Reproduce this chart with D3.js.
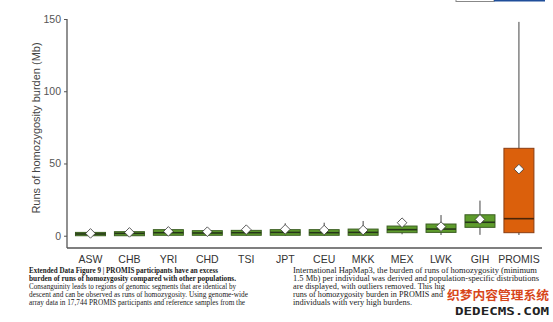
<!DOCTYPE html>
<html><head><meta charset="utf-8">
<script src="https://cdn.jsdelivr.net/npm/d3@7"></script>
<style>html,body{margin:0;padding:0;background:#fff;}svg{display:block;}</style>
</head><body>
<script>
const categories = ["ASW","CHB","YRI","CHD","TSI","JPT","CEU","MKK","MEX","LWK","GIH","PROMIS"];
const q1Values = [0, 0, 0.3, 0.3, 0.3, 0.3, 0.3, 0.3, 2.1, 2.3, 5.8, 2.1];
const medianValues = [1.2, 1.6, 2.1, 1.9, 2.1, 2.3, 2.1, 2.3, 4.2, 4.6, 9.3, 11.8];
const q3Values = [2.3, 2.8, 4.2, 3.5, 3.7, 4.2, 4.2, 4.6, 6.7, 8.1, 14.5, 60.5];
const whiskerLow = [0, 0, 0, 0, 0, 0, 0, 0, 1.0, 0.5, 0.6, 0.5];
const whiskerHigh = [3, 3.5, 6, 4.5, 6.3, 8.6, 9.0, 10.2, 9.0, 14.3, 24.3, 148];
const meanValues = [1.6, 2.3, 3.0, 2.8, 4.2, 4.4, 3.9, 3.9, 9.0, 6.3, 11.3, 46.1];
const yTicks = [0, 50, 100, 150];
const yLabel = "Runs of homozygosity burden (Mb)";
const captionLeft = [
  {t:"Extended Data Figure 9 | PROMIS participants have an excess", b:true, w:189},
  {t:"burden of runs of homozygosity compared with other populations.", b:true, w:207},
  {t:"Consanguinity leads to regions of genomic segments that are identical by", b:false, w:207},
  {t:"descent and can be observed as runs of homozygosity. Using genome-wide", b:false, w:219},
  {t:"array data in 17,744 PROMIS participants and reference samples from the", b:false, w:216}
];
const captionRight = [
  {t:"International HapMap3, the burden of runs of homozygosity (minimum", w:244},
  {t:"1.5 Mb) per individual was derived and population-specific distributions", w:246},
  {t:"are displayed, with outliers removed. This hig", w:152},
  {t:"runs of homozygosity burden in PROMIS and", w:150},
  {t:"individuals with very high burdens.", w:119}
];

const W = 553, H = 322;
const svg = d3.select("body").append("svg").attr("width", W).attr("height", H);

const data = categories.map((c, i) => ({
  cat: c, q1: q1Values[i], med: medianValues[i], q3: q3Values[i],
  lo: whiskerLow[i], hi: whiskerHigh[i], mean: meanValues[i]
}));

const x = d3.scaleBand().domain(categories).range([71, 538.4]).paddingInner(0.23).paddingOuter(0.115);
const y = d3.scaleLinear().domain([-8.5, 150]).range([248, 19]);

// top-right fragment
svg.append("rect").attr("x", 456).attr("y", -5).attr("width", 38).attr("height", 6.5)
  .attr("fill", "#fff").attr("stroke", "#888").attr("stroke-width", 1);
svg.append("rect").attr("x", 494).attr("y", -5).attr("width", 51).attr("height", 6.5)
  .attr("fill", "#1f4e9a");

// axes
const yAxis = d3.axisLeft(y).tickValues(yTicks).tickSize(3).tickPadding(3);
const gy = svg.append("g").attr("transform", "translate(67,0)").call(yAxis);
gy.select(".domain").attr("stroke", "#555").attr("stroke-width", 1.3).attr("d", `M0,${y(150)}V248`);
gy.selectAll(".tick line").attr("stroke", "#555");
gy.selectAll(".tick text").attr("fill", "#555").attr("font-family", "Liberation Sans, Arial, sans-serif").attr("font-size", 10.5);

const xAxis = d3.axisBottom(x).tickSize(0).tickPadding(8);
const gx = svg.append("g").attr("transform", "translate(0,248)").call(xAxis);
gx.select(".domain").attr("stroke", "#555").attr("stroke-width", 1.3).attr("d", "M67,0H542");
gx.selectAll(".tick text").attr("fill", "#333").attr("font-family", "Liberation Sans, Arial, sans-serif").attr("font-size", 10.5);

svg.append("text").attr("transform", "translate(40,128) rotate(-90)")
  .attr("text-anchor", "middle").attr("fill", "#444")
  .attr("font-family", "Liberation Sans, Arial, sans-serif").attr("font-size", 11)
  .text(yLabel);

// boxes
const g = svg.append("g");
const box = g.selectAll("g.box").data(data).join("g").attr("class", "box");
const isP = d => d.cat === "PROMIS";
box.append("line")
  .attr("x1", d => x(d.cat) + x.bandwidth()/2).attr("x2", d => x(d.cat) + x.bandwidth()/2)
  .attr("y1", d => y(d.hi)).attr("y2", d => y(d.lo))
  .attr("stroke", "#444").attr("stroke-width", 1);
box.append("rect")
  .attr("x", d => x(d.cat)).attr("width", x.bandwidth())
  .attr("y", d => y(d.q3)).attr("height", d => Math.max(y(d.q1) - y(d.q3), 1))
  .attr("fill", d => isP(d) ? "#db600c" : "#5e9c2c")
  .attr("stroke", d => isP(d) ? "#8a3d12" : "#3b5e22").attr("stroke-width", 1);
box.append("line")
  .attr("x1", d => x(d.cat)).attr("x2", d => x(d.cat) + x.bandwidth())
  .attr("y1", d => y(d.med)).attr("y2", d => y(d.med))
  .attr("stroke", d => isP(d) ? "#4a2408" : "#26351a").attr("stroke-width", 1.6);
box.append("path")
  .attr("d", d => {
    const cx = x(d.cat) + x.bandwidth()/2, cy = y(d.mean), r = 4.8;
    return `M${cx},${cy - r}L${cx + r},${cy}L${cx},${cy + r}L${cx - r},${cy}Z`;
  })
  .attr("fill", "#fff").attr("stroke", "#333").attr("stroke-width", 0.8);

// caption
const cap = svg.append("g").attr("font-family", "Liberation Serif, 'Times New Roman', serif").attr("font-size", 7.6).attr("fill", "#1a1a1a");
captionLeft.forEach((l, i) => {
  cap.append("text").attr("x", 29).attr("y", 273 + i * 7.9)
    .attr("font-weight", l.b ? "bold" : "normal")
    .attr("textLength", l.w).attr("lengthAdjust", "spacingAndGlyphs").text(l.t);
});
captionRight.forEach((l, i) => {
  cap.append("text").attr("x", 293).attr("y", 273 + i * 7.9)
    .attr("textLength", l.w).attr("lengthAdjust", "spacingAndGlyphs").text(l.t);
});

// watermark
svg.append("text").attr("x", 447).attr("y", 300)
  .attr("font-family", "Noto Sans CJK SC, sans-serif").attr("font-weight", "bold").attr("font-size", 12)
  .attr("fill", "#d8461a").attr("stroke", "#fff").attr("stroke-width", 2.2).attr("paint-order", "stroke")
  .attr("textLength", 102).attr("lengthAdjust", "spacingAndGlyphs")
  .text("织梦内容管理系统");
svg.append("text").attr("x", 455).attr("y", 315)
  .attr("font-family", "DejaVu Sans Mono, monospace").attr("font-weight", "bold").attr("font-size", 11)
  .attr("fill", "#222").attr("stroke", "#fff").attr("stroke-width", 2.2).attr("paint-order", "stroke")
  .attr("textLength", 94).attr("lengthAdjust", "spacingAndGlyphs")
  .text("DEDECMS.COM");
</script>
</body></html>
